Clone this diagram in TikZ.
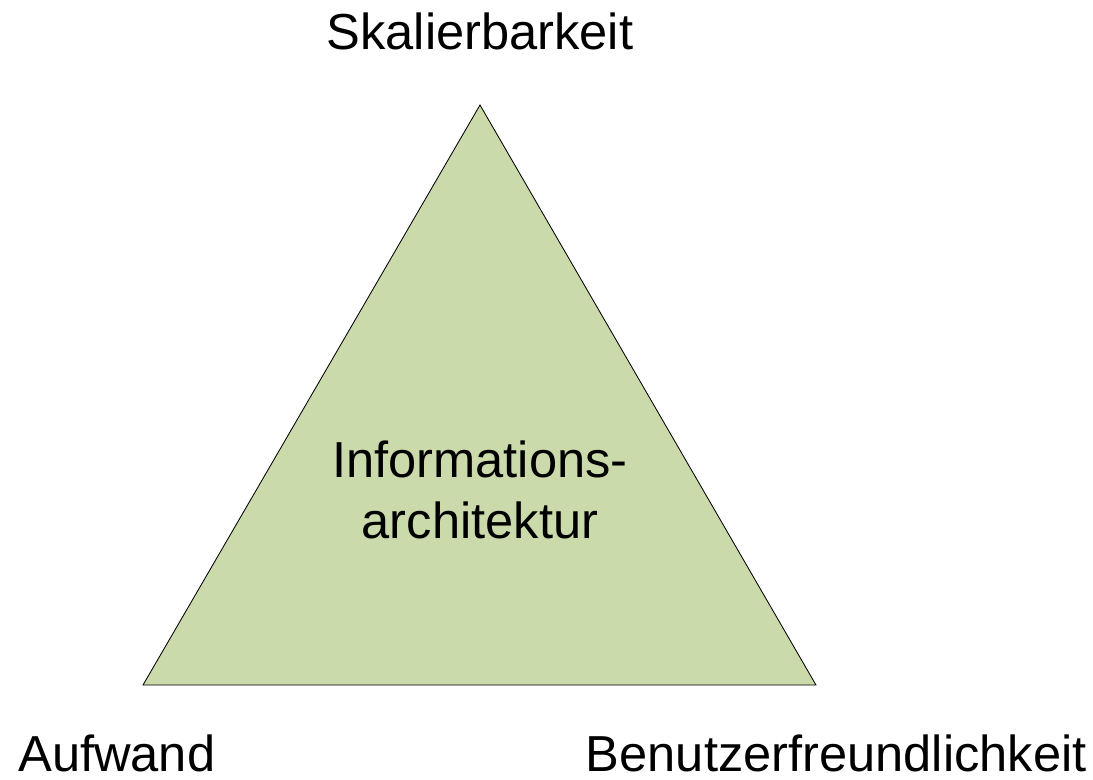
\documentclass[tikz,border=0pt]{standalone}
\usepackage{fontspec}
\setmainfont{Liberation Sans}
\definecolor{leaf}{HTML}{CBDAAA}

\begin{document}
\begin{tikzpicture}[x=0.025cm,y=-0.025cm,label/.style={inner sep=0pt,font=\fontsize{36}{43}\selectfont}]
            \useasboundingbox (0,0) rectangle (1093,779);
            \coordinate (top) at (480,105);
            \coordinate (left) at (143,685);
            \coordinate (right) at (816,685);
            \filldraw[fill=leaf,draw=black,line width=0.6pt] (top) -- (left) -- (right) -- cycle;
            \node[label,anchor=base] (skal) at (480,49) {Skalierbarkeit};
            \node[label,anchor=base west] (aufw) at (18,771) {Aufwand};
            \node[label,anchor=base east] (benu) at (1087,771) {Benutzerfreundlichkeit};
            \node[label,align=center,anchor=base] (info) at (480,538) {Informations-\\architektur};
        \end{tikzpicture}
\end{document}
